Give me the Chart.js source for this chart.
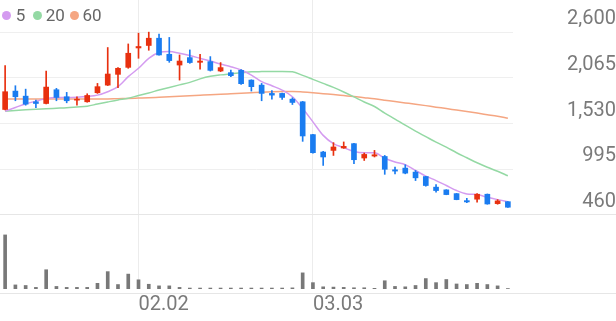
<!DOCTYPE html>
<html>
<head>
<meta charset="utf-8">
<script src="https://cdn.jsdelivr.net/npm/chart.js@4.4.1/dist/chart.umd.min.js"></script>
<style>
html,body{margin:0;padding:0;background:#fff;width:616px;height:321px;overflow:hidden;font-family:Roboto,"Noto Sans",sans-serif}
#wrap{position:relative;width:616px;height:321px}
#pbox{position:absolute;left:0;top:0;width:616px;height:215px}
#vbox{position:absolute;left:0;top:215px;width:616px;height:106px}
.hl{position:absolute;left:0;width:616px;height:1px;background:#e6e6e6}
.dot{position:absolute;width:9px;height:9px;border-radius:50%;top:11.2px}
.lt{position:absolute;top:7px;font-size:17px;line-height:17px;color:#666;font-family:Roboto,sans-serif}
</style>
</head>
<body>
<div id="wrap">
  <div id="pbox"><canvas id="pc"></canvas></div>
  <div id="vbox"><canvas id="vc"></canvas></div>
  <div class="hl" style="top:214px"></div>
  <div class="hl" style="top:293px"></div>
  <div id="legend"></div>
</div>
<script>
const xLabels = ['', '', '', '', '', '', '', '', '', '', '', '', '', '02.02', '', '', '', '', '', '', '', '', '', '', '', '', '', '', '', '', '03.03', '', '', '', '', '', '', '', '', '', '', '', '', '', '', '', '', '', '', ''];
const opens  = [1695,1910,1851,1785,1765,1926,1844,1804,1785,1891,1980,2106,2188,2415,2444,2529,2341,2215,2302,2247,2255,2145,2126,2153,2039,1980,1883,1883,1816,1785,1401,1197,1216,1244,1295,1127,1150,1145,989,1009,962,910,786,754,710,628,645,703,593,616];
const highs  = [2208,1973,1933,1804,2145,1942,1895,1844,1879,2000,2420,2185,2462,2588,2600,2576,2538,2333,2392,2341,2314,2244,2157,2161,2042,2000,1915,1886,1832,1790,1405,1205,1307,1315,1298,1185,1216,1157,1021,1048,981,912,816,756,712,656,710,706,640,618];
const lows   = [1690,1797,1745,1715,1760,1797,1773,1745,1780,1883,1975,1950,2177,2294,2388,2330,2247,2039,2235,2168,2145,2138,2079,1989,1910,1797,1816,1812,1753,1322,1185,1040,1157,1240,1060,1098,1139,936,942,942,863,797,727,697,638,605,609,586,586,549];
const closes = [1903,1844,1757,1765,1957,1836,1797,1816,1859,1962,2110,2177,2353,2432,2529,2333,2267,2262,2244,2262,2153,2185,2091,1997,1962,1883,1863,1836,1777,1385,1189,1139,1256,1263,1107,1169,1165,995,974,950,895,805,746,699,640,613,703,589,625,551];
const ma5  = [1675,1718,1762,1792,1824,1836,1836,1839,1847,1863,1903,1962,2079,2177,2294,2361,2373,2353,2326,2294,2262,2227,2196,2157,2098,2020,1973,1922,1844,1706,1550,1392,1295,1248,1204,1189,1189,1124,1080,1048,981,915,863,805,746,707,699,668,640,616];
const ma20 = [1675,1683,1691,1698,1703,1709,1715,1724,1733,1759,1783,1806,1826,1859,1889,1922,1953,1983,2012,2053,2083,2100,2112,2124,2136,2138,2139,2139,2136,2094,2047,2000,1953,1900,1842,1783,1730,1653,1583,1511,1442,1377,1312,1254,1189,1130,1071,1019,972,919];
const ma60 = [1818,1818,1818,1818,1818,1817,1817,1817,1817,1818,1819,1822,1824,1828,1832,1838,1844,1850,1856,1862,1868,1873,1879,1885,1891,1897,1902,1905,1906,1900,1891,1880,1870,1858,1846,1833,1820,1804,1787,1772,1757,1740,1722,1706,1688,1671,1653,1634,1615,1592];
const volumes = [570,43,37,17,203,27,17,17,17,60,183,47,157,97,50,33,33,17,10,10,10,10,10,10,10,10,10,10,12,170,67,23,20,17,13,13,7,87,27,23,37,110,67,100,53,47,60,47,33,5];
const priceTicks = [460,995,1530,2065,2600];
const legendItems = [['5','#d49bf0'],['20','#94d9a4'],['60','#f5a682']];

const UP = '#e8300f', DOWN = '#1a7cf0';
const MA_COLORS = ['#d49bf0', '#94d9a4', '#f5a682'];
const candleColors = opens.map((o, i) => closes[i] >= o ? UP : DOWN);

// legend
const lg = document.getElementById('legend');
const dotLeft = [1.5, 32.8, 69.5], textLeft = [15.8, 45.8, 82.4];
legendItems.forEach((it, i) => {
  const d = document.createElement('div'); d.className = 'dot'; d.style.left = dotLeft[i] + 'px'; d.style.background = it[1]; lg.appendChild(d);
  const t = document.createElement('div'); t.className = 'lt'; t.style.left = textLeft[i] + 'px'; t.textContent = it[0]; lg.appendChild(t);
});

const gridColorX = (ctx) => xLabels[ctx.index] ? '#ececec' : 'rgba(0,0,0,0)';
const AXIS_W = 103;
const PMIN = 460, PMAX = 2600 + 32 * (2140 / 182);
const fitAxis = (s) => { s.width = AXIS_W; s.paddingTop = 0; s.paddingBottom = 0; };

new Chart(document.getElementById('pc'), {
  type: 'bar',
  data: {
    labels: xLabels,
    datasets: [
      { type: 'bar', data: opens.map((o, i) => [o, closes[i]]), backgroundColor: candleColors, barThickness: 5, grouped: false, order: 0, borderWidth: 0 },
      { type: 'bar', data: lows.map((l, i) => [l, highs[i]]), backgroundColor: candleColors, barThickness: 1, grouped: false, order: 1, borderWidth: 0 },
      { type: 'line', data: ma5, borderColor: MA_COLORS[0], borderWidth: 1.5, pointRadius: 0, cubicInterpolationMode: 'monotone', order: 2 },
      { type: 'line', data: ma20, borderColor: MA_COLORS[1], borderWidth: 1.5, pointRadius: 0, cubicInterpolationMode: 'monotone', order: 3 },
      { type: 'line', data: ma60, borderColor: MA_COLORS[2], borderWidth: 1.5, pointRadius: 0, cubicInterpolationMode: 'monotone', order: 4 }
    ]
  },
  options: {
    responsive: true, maintainAspectRatio: false, animation: false, devicePixelRatio: 1,
    layout: { padding: 0 },
    plugins: { legend: { display: false }, tooltip: { enabled: false } },
    scales: {
      x: {
        offset: true,
        grid: { offset: false, color: gridColorX, drawTicks: false, lineWidth: 1 },
        border: { display: false },
        ticks: { display: false, autoSkip: false }
      },
      y: {
        position: 'right', min: PMIN, max: PMAX,
        afterBuildTicks: (s) => { s.ticks = priceTicks.map(v => ({ value: v })); },
        afterFit: fitAxis,
        grid: { color: '#efefef', drawTicks: false },
        border: { display: false },
        ticks: {
          crossAlign: 'far', padding: 46, labelOffset: -13, autoSkip: false,
          color: '#7a7a7a', font: { family: 'Roboto', size: 20 },
          callback: (v) => Number(v).toLocaleString('en-US')
        }
      }
    }
  }
});

new Chart(document.getElementById('vc'), {
  type: 'bar',
  data: {
    labels: xLabels,
    datasets: [
      { data: volumes, backgroundColor: '#787878', barThickness: 3, borderWidth: 0 }
    ]
  },
  options: {
    responsive: true, maintainAspectRatio: false, animation: false, devicePixelRatio: 1,
    layout: { padding: 0 },
    plugins: { legend: { display: false }, tooltip: { enabled: false } },
    scales: {
      x: {
        offset: true,
        grid: { offset: false, color: gridColorX, drawTicks: false },
        border: { display: false },
        ticks: { autoSkip: false, maxRotation: 0, minRotation: 0, align: 'start', padding: 4, color: '#7a7a7a', font: { family: 'Roboto', size: 20 } }
      },
      y: {
        position: 'right', min: 0, max: 780,
        afterFit: fitAxis,
        grid: { display: false },
        border: { display: false },
        ticks: { display: false }
      }
    }
  }
});
</script>
</body>
</html>
